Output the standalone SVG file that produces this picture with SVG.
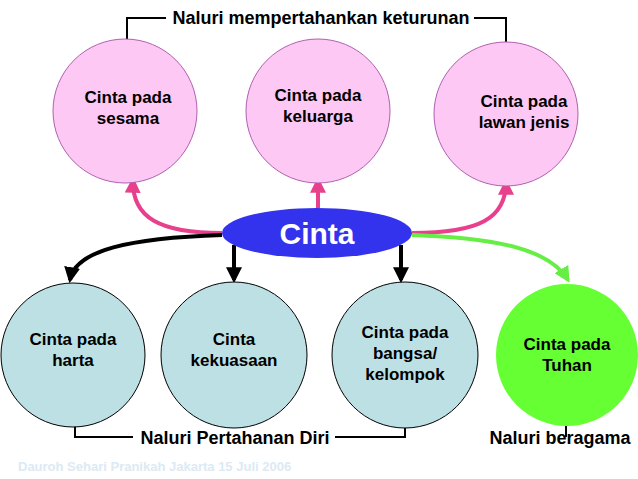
<svg xmlns="http://www.w3.org/2000/svg" width="638" height="479" viewBox="0 0 638 479">
<style>
text{font-family:"Liberation Sans",Arial,sans-serif;font-weight:bold;text-anchor:middle}
.n{font-size:17px;fill:#000}
.l{font-size:18px;fill:#000}
.pk{fill:#fdc9f4;stroke:#b060b0;stroke-width:1}
.bl{fill:#bde0e4;stroke:#000;stroke-width:1}
.br{fill:none;stroke:#000;stroke-width:2}
</style>
<defs>
<marker id="ap" viewBox="0 0 10 10" refX="8" refY="5" markerWidth="4" markerHeight="4" orient="auto"><path d="M0,0L10,5L0,10z" fill="#e8408c"/></marker>
<marker id="ab" viewBox="0 0 10 10" refX="8" refY="5" markerWidth="4" markerHeight="4" orient="auto"><path d="M0,0L10,5L0,10z" fill="#000"/></marker>
<marker id="ag" viewBox="0 0 10 10" refX="8" refY="5" markerWidth="4" markerHeight="4" orient="auto"><path d="M0,0L10,5L0,10z" fill="#66ee44"/></marker>
</defs>
<rect width="638" height="479" fill="#fff"/>
<g id="brackets">
<path class="br" d="M127,45V18H166M474,18H506V48"/>
<path class="br" d="M75,425V437H133M335,437H405V420"/>
<path class="br" d="M566,425V437"/>
</g>
<g id="connectors" fill="none" stroke-width="4">
<path d="M222,233C160,233 132,218 133,180" stroke="#e8408c" marker-end="url(#ap)"/>
<path d="M318,208V180" stroke="#e8408c" marker-end="url(#ap)"/>
<path d="M412,233C480,233 506,218 506,182" stroke="#e8408c" marker-end="url(#ap)"/>
<path d="M222,235C130,238 75,250 70,280" stroke="#000" marker-end="url(#ab)"/>
<path d="M234,245V280" stroke="#000" marker-end="url(#ab)"/>
<path d="M401,245V280" stroke="#000" marker-end="url(#ab)"/>
<path d="M412,235C500,238 550,250 568,280" stroke="#66ee44" marker-end="url(#ag)"/>
</g>
<g id="n1"><circle class="pk" cx="125" cy="111" r="72"/><text class="n" x="128" y="103">Cinta pada</text><text class="n" x="128" y="124">sesama</text></g>
<g id="n2"><circle class="pk" cx="318" cy="111" r="72"/><text class="n" x="318" y="101">Cinta pada</text><text class="n" x="318" y="122">keluarga</text></g>
<g id="n3"><circle class="pk" cx="506" cy="114" r="72"/><text class="n" x="524" y="107">Cinta pada</text><text class="n" x="524" y="128">lawan jenis</text></g>
<g id="cinta"><ellipse cx="317" cy="233" rx="95" ry="25" fill="#3333ee"/><text x="317" y="244" font-size="30" fill="#fff">Cinta</text></g>
<g id="n4"><circle class="bl" cx="73" cy="355" r="72"/><text class="n" x="73" y="345">Cinta pada</text><text class="n" x="73" y="366">harta</text></g>
<g id="n5"><circle class="bl" cx="234" cy="355" r="73"/><text class="n" x="234" y="345">Cinta</text><text class="n" x="234" y="366">kekuasaan</text></g>
<g id="n6"><circle class="bl" cx="405" cy="355" r="73"/><text class="n" x="405" y="338">Cinta pada</text><text class="n" x="405" y="359">bangsa/</text><text class="n" x="405" y="380">kelompok</text></g>
<g id="n7"><circle cx="567" cy="355" r="71" fill="#66ff33"/><text class="n" x="567" y="350">Cinta pada</text><text class="n" x="567" y="371">Tuhan</text></g>
<g id="labels">
<text class="l" x="321" y="24">Naluri mempertahankan keturunan</text>
<text class="l" x="235" y="444">Naluri Pertahanan Diri</text>
<text class="l" x="560" y="444">Naluri beragama</text>
<text x="18" y="471" font-size="13" fill="#dbeaf5" style="text-anchor:start">Dauroh Sehari Pranikah Jakarta 15 Juli 2006</text>
</g>
</svg>
